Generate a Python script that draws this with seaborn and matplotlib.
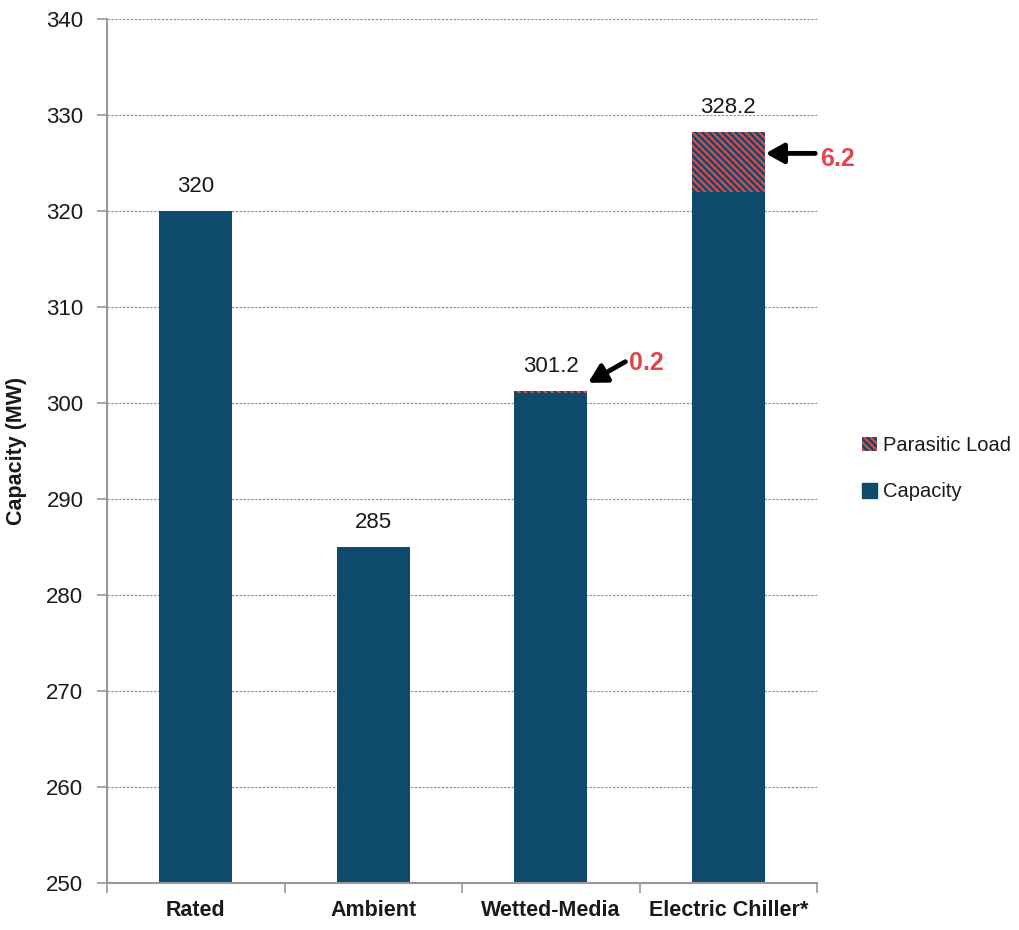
import matplotlib
matplotlib.use("Agg")
import matplotlib.pyplot as plt
import seaborn as sns
import pandas as pd
from matplotlib.patches import Patch

categories = ["Rated", "Ambient", "Wetted-Media", "Electric Chiller*"]
capacity = [320, 285, 301.0, 322.0]
parasitic = [0, 0, 0.2, 6.2]
totals = [320, 285, 301.2, 328.2]
total_labels = ["320", "285", "301.2", "328.2"]
callout_labels = [None, None, "0.2", "6.2"]
y_ticks = list(range(250, 341, 10))

BLUE = "#0E4A6C"
RED = "#E0474C"
GRID = "#888888"
TEXT = "#1a1a1a"
HATCH = "\\" * 5

sns.set_theme(style="white")
plt.rcParams["font.family"] = ["Liberation Sans Narrow", "Liberation Sans", "DejaVu Sans"]
plt.rcParams["hatch.linewidth"] = 1.6

fig = plt.figure(figsize=(10.2, 9.3), dpi=100)
ax = fig.add_axes([0.105, 0.0505, 0.696, 0.9291])

df = pd.DataFrame({"category": categories, "capacity": capacity})
sns.barplot(data=df, x="category", y="capacity", color=BLUE, saturation=1,
            width=0.41, linewidth=0, ax=ax, zorder=2)

# parasitic load stacked on top of capacity
ax.bar(range(len(categories)), parasitic, bottom=capacity, width=0.41,
       color=BLUE, edgecolor=RED, hatch=HATCH, linewidth=0, zorder=2)

ax.set_ylim(250, 340)
ax.set_xlim(-0.5, len(categories) - 0.5)
ax.set_yticks(y_ticks)
ax.set_yticklabels([str(t) for t in y_ticks], fontsize=16, color=TEXT)
ax.yaxis.grid(True, linestyle=(0, (2, 1.5)), color=GRID, linewidth=0.8, zorder=0)
ax.set_axisbelow(True)

# category boundaries as x ticks
ax.set_xticks([i + 0.5 for i in range(-1, len(categories))], minor=False)
ax.set_xticklabels([])
ax.set_xticks(range(len(categories)), minor=True)
ax.set_xticklabels(categories, minor=True, fontsize=15.5, fontweight="bold", color=TEXT)
ax.tick_params(axis="x", which="major", length=7, width=1.2, color="#999999",
               direction="out", bottom=True)
ax.tick_params(axis="x", which="minor", length=0, pad=12)
ax.tick_params(axis="y", length=7, width=1.2, color="#999999", direction="out",
               left=True, pad=10)
ax.set_xlabel("")
ax.set_ylabel("Capacity (MW)", fontsize=15.5, fontweight="bold", labelpad=14, color=TEXT)

for s in ["top", "right"]:
    ax.spines[s].set_visible(False)
for s in ["left", "bottom"]:
    ax.spines[s].set_color("#999999")
    ax.spines[s].set_linewidth(1.5)

# totals above bars
for i, (t, lab) in enumerate(zip(totals, total_labels)):
    ax.text(i, t + 1.5, lab, ha="center", va="bottom", fontsize=16, color=TEXT)

# callouts for parasitic load
arrow_kw = dict(arrowstyle="-|>,head_length=0.9,head_width=0.5", color="black",
                lw=3.5, shrinkA=0, shrinkB=0)
ax.annotate("", xy=(2.21, 302.1), xytext=(2.42, 304.3), arrowprops=arrow_kw,
            annotation_clip=False)
ax.text(2.44, 304.2, callout_labels[2], color=RED, fontsize=18, fontweight="bold",
        va="center", ha="left")
ax.annotate("", xy=(3.21, 326.0), xytext=(3.49, 326.0), arrowprops=arrow_kw,
            annotation_clip=False)
ax.text(3.515, 325.4, callout_labels[3], color=RED, fontsize=18, fontweight="bold",
        va="center", ha="left", clip_on=False)

handles = [Patch(facecolor=BLUE, edgecolor=RED, hatch=HATCH, linewidth=0,
                 label="Parasitic Load"),
           Patch(facecolor=BLUE, edgecolor=BLUE, label="Capacity")]
leg = fig.legend(handles=handles, loc="center left", bbox_to_anchor=(0.845, 0.496),
                 frameon=False, fontsize=14.5, handlelength=0.75, handleheight=0.75,
                 handletextpad=0.3, labelspacing=1.35, borderaxespad=0, borderpad=0)
for t in leg.get_texts():
    t.set_color(TEXT)

fig.savefig("out.png", dpi=100)
